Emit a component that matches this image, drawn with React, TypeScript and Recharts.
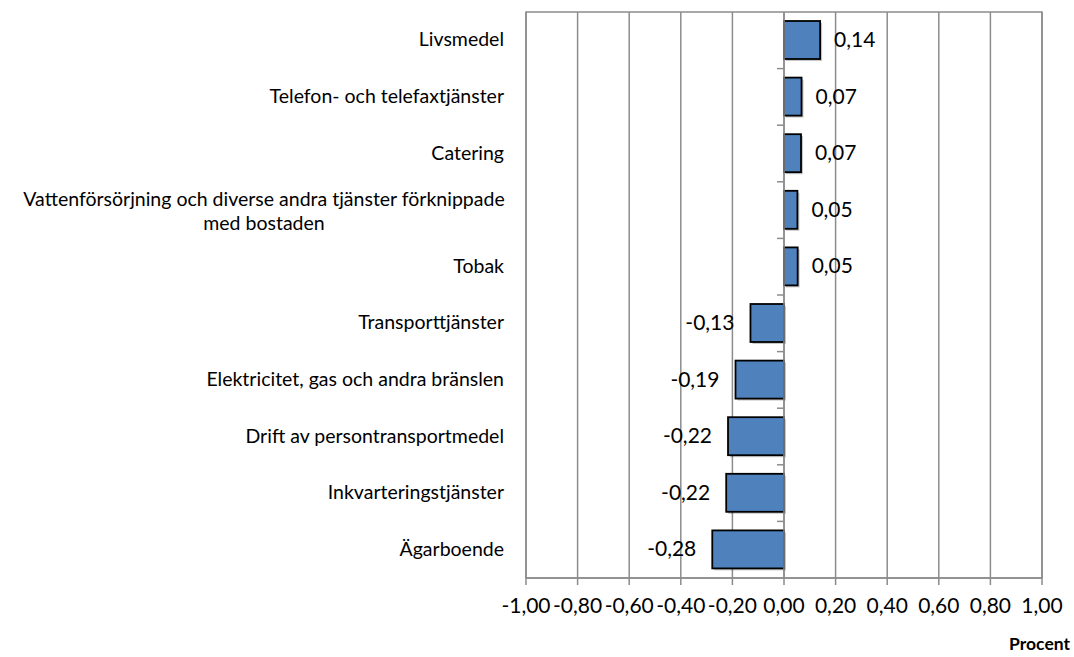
import React from "react";
import {
  BarChart,
  Bar,
  XAxis,
  YAxis,
  CartesianGrid,
  ReferenceLine,
  ReferenceArea,
  LabelList,
} from "recharts";

const categories = [
  "Livsmedel",
  "Telefon- och telefaxtjänster",
  "Catering",
  "Vattenförsörjning och diverse andra tjänster förknippade|med bostaden",
  "Tobak",
  "Transporttjänster",
  "Elektricitet, gas och andra bränslen",
  "Drift av persontransportmedel",
  "Inkvarteringstjänster",
  "Ägarboende",
];

const values = [0.14, 0.068, 0.066, 0.052, 0.053, -0.13, -0.188, -0.217, -0.224, -0.278];

const xTicks = [-1, -0.8, -0.6, -0.4, -0.2, 0, 0.2, 0.4, 0.6, 0.8, 1];

const data = categories.map((name, i) => ({ name, value: values[i] }));

const FONT = "Lato, 'Open Sans', sans-serif";
const GRID = "#8c8c8c";

const fmt = (v: number) => v.toFixed(2).replace(".", ",");

function CategoryTick(props: any) {
  const { x, y, payload } = props;
  const lines = String(payload.value).split("|");
  const right = x - 14;
  if (lines.length === 1) {
    return (
      <text x={right} y={y} dy={6} textAnchor="end" fontSize={19.5} fill="#000" fontFamily={FONT}>
        {lines[0]}
      </text>
    );
  }
  return (
    <text x={264} y={y} textAnchor="middle" fontSize={19.5} fill="#000" fontFamily={FONT}>
      <tspan x={264} dy={-4}>{lines[0]}</tspan>
      <tspan x={264} dy={24}>{lines[1]}</tspan>
    </text>
  );
}

function ValueTick(props: any) {
  const { x, y, payload } = props;
  return (
    <text x={x} y={y} dy={26} textAnchor="middle" fontSize={21} fill="#000" fontFamily={FONT}>
      {fmt(payload.value)}
    </text>
  );
}

function ShadowBar(props: any) {
  const { x, y, width, height } = props;
  const x0 = Math.min(x, x + width);
  const w = Math.abs(width);
  return (
    <g>
      <rect x={x0 + 2} y={y + 2} width={w} height={height} fill="rgba(0,0,0,0.22)" />
      <rect x={x0} y={y} width={w} height={height} fill="#4F81BD" stroke="#000" strokeWidth={1.8} />
    </g>
  );
}

function ValueLabel(props: any) {
  const { x, y, width, height, value } = props;
  const end = x + width;
  const pos = value >= 0;
  return (
    <text
      x={pos ? end + 14 : end - 16}
      y={y + height / 2}
      dy={7}
      textAnchor={pos ? "start" : "end"}
      fontSize={21}
      fill="#000"
      fontFamily={FONT}
    >
      {fmt(value)}
    </text>
  );
}

function ZeroAxis(props: any) {
  const { x1, y1, y2 } = props;
  const step = (y2 - y1) / categories.length;
  const marks = categories.slice(1).map((_, i) => y1 + step * (i + 1));
  return (
    <g>
      <line x1={x1} y1={y1} x2={x1} y2={y2} stroke={GRID} strokeWidth={1.5} />
      {marks.map((m, i) => (
        <line key={i} x1={x1 - 7} y1={m} x2={x1} y2={m} stroke={GRID} strokeWidth={1.5} />
      ))}
    </g>
  );
}

export default function App() {
  return (
    <div style={{ position: "absolute", left: 0, top: 0, width: 1074, height: 657, background: "#fff" }}>
      <BarChart
        width={1074}
        height={657}
        data={data}
        layout="vertical"
        margin={{ top: 12, right: 32, bottom: 9, left: 0 }}
      >
        <CartesianGrid horizontal={false} stroke={GRID} strokeWidth={1.5} />
        <ReferenceArea x1={-1} x2={1} fill="none" stroke={GRID} strokeWidth={1.5} ifOverflow="visible" />
        <XAxis
          type="number"
          domain={[-1, 1]}
          ticks={xTicks}
          interval={0}
          stroke={GRID}
          strokeWidth={1.5}
          tickSize={7}
          tickLine={{ stroke: GRID, strokeWidth: 1.5 }}
          tick={<ValueTick />}
          height={70}
          label={{
            value: "Procent",
            position: "insideBottomRight",
            offset: 0,
            dx: 28,
            dy: 2,
            style: { fontWeight: 700, fontSize: 17.5, fill: "#000", fontFamily: FONT },
          }}
        />
        <YAxis
          type="category"
          dataKey="name"
          width={526}
          axisLine={false}
          tickLine={false}
          interval={0}
          tick={<CategoryTick />}
        />
        <ReferenceLine x={0} shape={<ZeroAxis />} />
        <Bar dataKey="value" isAnimationActive={false} barSize={38} shape={<ShadowBar />}>
          <LabelList dataKey="value" content={<ValueLabel />} />
        </Bar>
      </BarChart>
    </div>
  );
}
